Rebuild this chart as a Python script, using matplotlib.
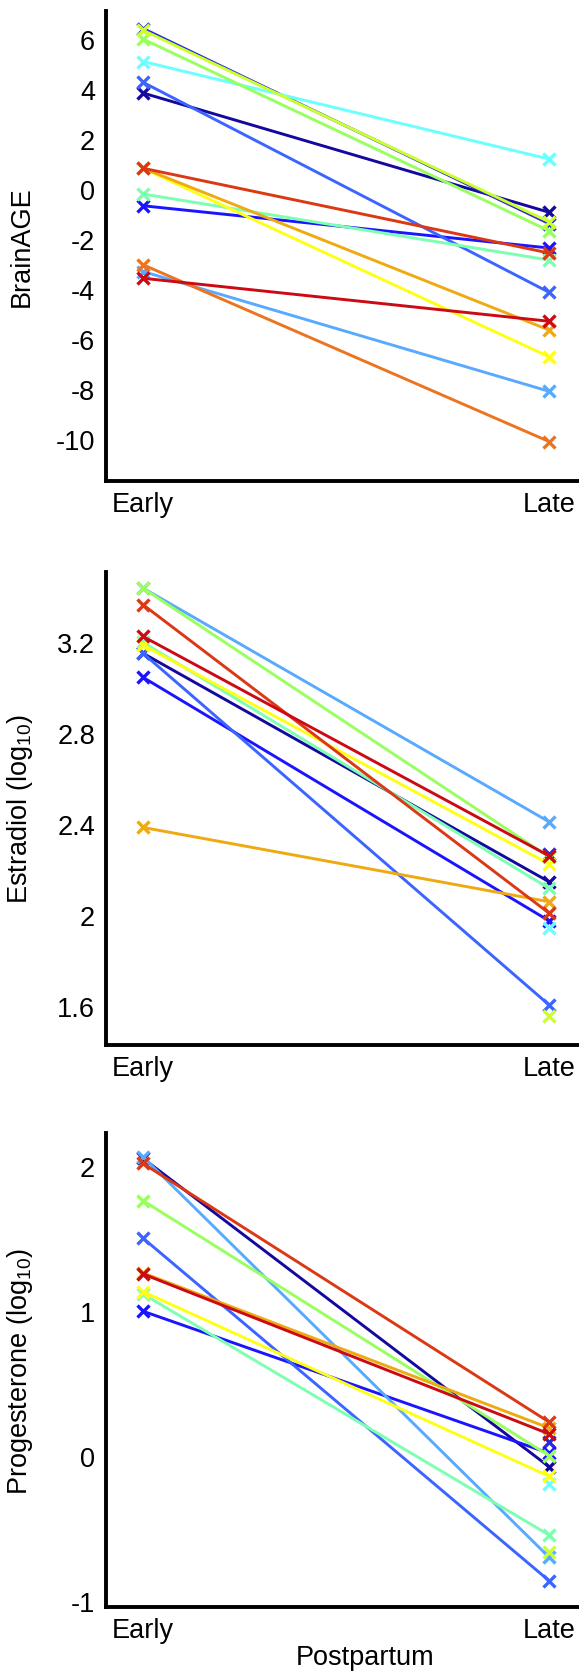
import numpy as np
import matplotlib
matplotlib.use("Agg")
import matplotlib.pyplot as plt

plt.rcParams["font.family"] = ["Liberation Sans", "DejaVu Sans"]
plt.rcParams["mathtext.default"] = "regular"

# one colour per subject (jet-like), same order in every panel
colors = [
    "#14089e",  # navy
    "#2a2ad6",  # extra subject
    "#1a14ff",  # blue
    "#3c64ff",  # medium blue
    "#58aaff",  # light blue
    "#6bffff",  # cyan
    "#7cffb0",  # aquamarine
    "#99ff5e",  # green
    "#ccff2e",  # yellow-green
    "#ffff14",  # yellow
    "#eeaa10",  # orange
    "#ec7420",  # dark orange
    "#dc3814",  # red-orange
    "#cc0a14",  # red
]

conditions = ["Early", "Late"]

brainage_early = [3.84, 6.42, -0.67, 4.27, -3.30, 5.10, -0.20, 6.00, 6.35, 0.83, 0.83, -3.03, 0.83, -3.57]
brainage_late = [-0.93, -1.38, -2.36, -4.13, -8.09, 1.20, -2.84, -1.67, -1.31, -6.71, -5.64, -10.10, -2.56, -5.29]

estradiol_early = [3.152, np.nan, 3.046, 3.152, 3.439, np.nan, 3.20, 3.439, np.nan, 3.188, 2.385, np.nan, 3.366, 3.226]
estradiol_late = [2.146, 2.268, 1.974, 1.604, 2.41, 1.941, 2.117, 2.255, 1.556, 2.224, 2.058, np.nan, 2.008, 2.26]

progesterone_early = [2.05, np.nan, 0.996, 1.50, 2.061, np.nan, 1.115, 1.759, np.nan, 1.131, 1.26, np.nan, 2.015, 1.253]
progesterone_late = [-0.076, 0.092, 0.017, -0.862, -0.70, -0.195, -0.547, 0.0, -0.662, -0.142, 0.191, np.nan, 0.232, 0.15]

panels = [
    ("BrainAGE", brainage_early, brainage_late, (-11.68, 7.12),
     [-10, -8, -6, -4, -2, 0, 2, 4, 6], ["-10", "-8", "-6", "-4", "-2", "0", "2", "4", "6"]),
    ("Estradiol (log$_{10}$)", estradiol_early, estradiol_late, (1.427, 3.511),
     [1.6, 2.0, 2.4, 2.8, 3.2], ["1.6", "2", "2.4", "2.8", "3.2"]),
    ("Progesterone (log$_{10}$)", progesterone_early, progesterone_late, (-1.046, 2.225),
     [-1, 0, 1, 2], ["-1", "0", "1", "2"]),
]

W, H = 579, 1674
fig = plt.figure(figsize=(W / 100, H / 100), dpi=100)

# axes boxes in pixels: (top, bottom)
boxes = [(12, 482), (572.7, 1046), (1134, 1608.3)]
left_px = 106
fs = 19.5

for (label, early, late, ylim, yt, ytl), (top, bot) in zip(panels, boxes):
    ax = fig.add_axes([left_px / W, 1 - bot / H, (W - left_px) / W, (bot - top) / H])
    x = np.arange(1, len(conditions) + 1)
    for c, e, l in zip(colors, early, late):
        ax.plot(x, [e, l], color=c, lw=2.1, marker="x", ms=8, mew=2.4)
    ax.set_xlim(0.909, 2.074)
    ax.set_ylim(*ylim)
    ax.set_xticks(x)
    ax.set_xticklabels(conditions)
    ax.set_yticks(yt)
    ax.set_yticklabels(ytl)
    ax.tick_params(length=0, labelsize=fs, pad=7)
    ax.tick_params(axis="y", pad=8)
    for s in ["top", "right"]:
        ax.spines[s].set_visible(False)
    for s in ["left", "bottom"]:
        ax.spines[s].set_linewidth(2.8)
    ax.set_ylabel(label, fontsize=fs)
    ax.yaxis.set_label_coords(-0.15, 0.5)

ax.set_xlabel("Postpartum", fontsize=fs)
ax.xaxis.set_label_coords(0.548, -0.078)

fig.savefig("out.png", dpi=100)
